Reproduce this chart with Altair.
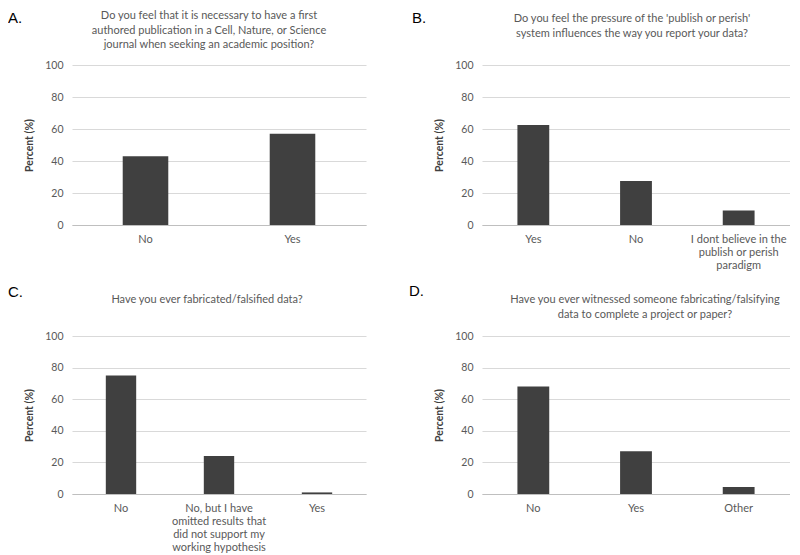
import altair as alt
import pandas as pd

# ---- data ----
a_cats = ["No", "Yes"]
a_vals = [43, 57]
b_cats = ["Yes", "No", "I dont believe in the\npublish or perish\nparadigm"]
b_vals = [62.5, 27.5, 9]
c_cats = ["No", "No, but I have\nomitted results that\ndid not support my\nworking hypothesis", "Yes"]
c_vals = [75, 24, 1]
d_cats = ["No", "Yes", "Other"]
d_vals = [68, 27, 4.5]

a_title = ["Do you feel  that it is necessary to have a first",
           "authored publication in a Cell, Nature, or Science",
           "journal when seeking an academic position?"]
b_title = ["Do you feel the pressure of the 'publish or perish'",
           "system influences the way you report your data?"]
c_title = ["Have you ever fabricated/falsified data?"]
d_title = ["Have you ever witnessed someone fabricating/falsifying",
           "data to complete a project or paper?"]

y_ticks = [0, 20, 40, 60, 80, 100]

FONT = "Lato"
TEXT = "#595959"
BAR = "#404040"
GRID = "#d9d9d9"


def panel(cats, vals, title, letter, w, h, tx, ty, lx, ly):
    df = pd.DataFrame({"cat": cats, "val": vals})
    bars = alt.Chart(df).mark_bar(color=BAR).encode(
        x=alt.X("cat:N", sort=cats,
                scale=alt.Scale(paddingInner=0.69, paddingOuter=0.345),
                axis=alt.Axis(title=None, labelAngle=0,
                              labelExpr="split(datum.label, '\\n')",
                              labelFont=FONT, labelFontSize=11, labelColor=TEXT,
                              labelLineHeight=13.2, labelPadding=8,
                              ticks=False, domain=True, domainColor="#bfbfbf",
                              grid=False, labelLimit=300)),
        y=alt.Y("val:Q", scale=alt.Scale(domain=[0, 100]),
                axis=alt.Axis(values=y_ticks, title="Percent (%)",
                              titleFont=FONT, titleFontSize=10.5, titleColor="#404040",
                              titleFontWeight="bold", titlePadding=10,
                              labelFont=FONT, labelFontSize=10.5, labelColor=TEXT,
                              labelPadding=9, ticks=False, domain=False,
                              grid=True, gridColor=GRID, gridWidth=1)),
    )
    ttl = alt.Chart(pd.DataFrame({"t": ["\n".join(title)]})).mark_text(
        font=FONT, fontSize=11, color=TEXT, align="center", baseline="top",
        lineBreak="\n", lineHeight=14.5
    ).encode(text="t:N", x=alt.value(tx), y=alt.value(ty))
    lab = alt.Chart(pd.DataFrame({"t": [letter]})).mark_text(
        font="Liberation Sans", fontSize=15, color="#000000",
        align="left", baseline="alphabetic"
    ).encode(text="t:N", x=alt.value(lx), y=alt.value(ly))
    return alt.layer(bars, ttl, lab).properties(width=w, height=h)


pa = panel(a_cats, a_vals, a_title, "A.", 294, 160, 137, -55, -64, -42)
pb = panel(b_cats, b_vals, b_title, "B.", 308, 160, 150, -52, -70, -42)
pc = panel(c_cats, c_vals, c_title, "C.", 294, 158, 135, -42, -64, -39)
pd_ = panel(d_cats, d_vals, d_title, "D.", 308, 158, 163, -42, -73, -40)

chart = alt.concat(pa, pb, pc, pd_, columns=2, bounds="flush",
                   spacing={"row": 111, "column": 116}).properties(
    padding={"top": 2, "left": 0, "right": 0, "bottom": 0}, background="white"
).configure_view(stroke=None)

chart.save("out.html", embed_options={"renderer": "svg", "actions": False})
